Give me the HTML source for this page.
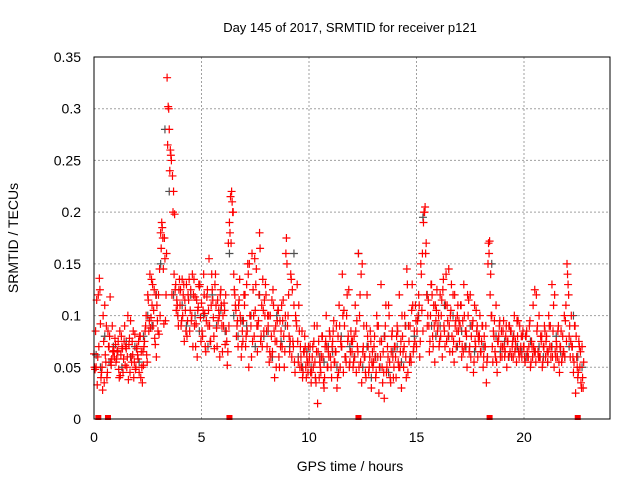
<!DOCTYPE html>
<html><head><meta charset="utf-8"><style>
body{margin:0;background:#fff;}
svg{display:block;font-family:"Liberation Sans",sans-serif;}
</style></head><body>
<svg id="c" width="640" height="480" xmlns="http://www.w3.org/2000/svg">
<text x="350" y="32" font-size="13" text-anchor="middle">Day 145 of 2017, SRMTID for receiver p121</text>
<text x="18" y="238" font-size="14" text-anchor="middle" transform="rotate(-90 18 238)">SRMTID / TECUs</text>
<text x="350" y="471" font-size="14" text-anchor="middle">GPS time / hours</text>
<g id="grid"></g><g id="marks"></g>
<rect x="94" y="57" width="516" height="362" fill="none" stroke="#000" stroke-width="1"/>
</svg>
<script>
const xTicks=[0,5,10,15,20];
const yTicks=[0,0.05,0.1,0.15,0.2,0.25,0.3,0.35];
const yTickLabels=["0","0.05","0.1","0.15","0.2","0.25","0.3","0.35"];
const redAStep=0.05;
const redA=[
.063,.048,.05,.033,.12,.136,.092,.045,.028,.075,.11,.055,.04,.085,.07,.118,.052,.09,.065,.06,
.072,.058,.066,.048,.085,.062,.07,.045,.075,.052,.068,.06,.038,.078,.095,.055,.062,.04,.082,.05,
.07,.058,.045,.08,.065,.035,.052,.075,.09,.062,.12,.085,.14,.098,.11,.09,.125,.072,.06,.095,
.12,.145,.18,.19,.175,.092,.155,.12,.33,.302,.28,.26,.25,.235,.22,.198,.13,.115,.1,.125,
.11,.09,.135,.12,.075,.105,.13,.095,.115,.085,.125,.1,.07,.135,.118,.092,.06,.108,.128,.098,
.112,.08,.14,.102,.065,.118,.09,.155,.075,.11,.125,.098,.068,.14,.088,.115,.105,.06,.125,.09,
.1,.112,.072,.085,.052,.17,.19,.215,.22,.2,.14,.12,.105,.09,.07,.115,.1,.06,.085,.095,
.11,.07,.13,.15,.05,.1,.09,.16,.125,.08,.105,.145,.065,.095,.18,.075,.11,.135,.085,.1,
.12,.07,.09,.055,.1,.08,.065,.11,.04,.09,.075,.105,.06,.095,.085,.07,.115,.05,.1,.175,
.09,.12,.065,.14,.06,.075,.11,.045,.095,.13,.055,.085,.07,.05,.04,.065,.08,.05,.06,.045,
.055,.07,.035,.06,.05,.09,.04,.065,.015,.075,.055,.045,.08,.06,.03,.07,.1,.05,.065,.085,
.06,.04,.075,.095,.055,.065,.03,.08,.11,.05,.07,.14,.045,.09,.06,.1,.075,.125,.055,.085,
.065,.05,.08,.11,.045,.07,.16,.1,.055,.035,.065,.09,.06,.04,.12,.07,.05,.085,.03,.065,
.055,.08,.04,.1,.06,.025,.075,.13,.05,.065,.02,.09,.045,.07,.11,.055,.035,.08,.06,.05,
.07,.04,.09,.055,.12,.065,.03,.08,.05,.1,.06,.145,.045,.075,.09,.055,.13,.065,.085,.11,
.07,.095,.12,.06,.15,.105,.085,.2,.205,.17,.09,.115,.065,.1,.13,.08,.11,.055,.095,.125,
.09,.07,.12,.1,.06,.135,.085,.11,.075,.095,.145,.065,.105,.08,.12,.055,.09,.07,.1,.085,
.075,.11,.06,.095,.13,.07,.085,.05,.1,.065,.12,.08,.09,.045,.11,.07,.085,.06,.075,.1,
.065,.09,.05,.08,.07,.035,.06,.17,.172,.14,.1,.055,.08,.065,.11,.045,.075,.09,.06,.085,
.07,.095,.06,.08,.05,.075,.09,.065,.085,.07,.06,.1,.075,.055,.08,.065,.09,.07,.06,.085,
.07,.055,.08,.065,.06,.09,.05,.075,.06,.07,.125,.055,.085,.065,.1,.06,.075,.05,.07,.09,
.06,.08,.055,.1,.07,.06,.13,.085,.05,.065,.075,.06,.09,.045,.07,.055,.08,.065,.06,.11,
.15,.13,.08,.06,.1,.07,.045,.09,.025,.06,.04,.075,.05,.035,.07,.03];
const redBStep=0.1;
const redB=[
.05,.115,.07,.04,.1,.062,.045,.08,.058,.066,
.055,.075,.042,.068,.09,.05,.072,.06,.085,.048,
.062,.08,.05,.07,.1,.115,.088,.13,.078,.11,
.082,.165,.145,.095,.265,.24,.12,.14,.105,.09,
.125,.1,.115,.08,.135,.095,.12,.07,.105,.13,
.085,.12,.095,.105,.075,.115,.13,.07,.1,.11,
.09,.12,.065,.18,.21,.125,.08,.11,.095,.075,
.12,.085,.15,.06,.1,.13,.09,.165,.07,.115,
.085,.1,.06,.125,.075,.095,.05,.11,.08,.16,
.1,.075,.125,.055,.09,.11,.06,.045,.07,.055,
.06,.045,.075,.035,.065,.05,.08,.04,.07,.06,
.05,.085,.065,.04,.09,.07,.105,.055,.08,.065,
.075,.06,.095,.05,.14,.07,.045,.08,.06,.055,
.07,.045,.09,.06,.035,.08,.05,.1,.065,.04,
.06,.085,.05,.1,.07,.04,.09,.06,.11,.075,
.085,.11,.14,.19,.16,.1,.075,.12,.09,.105,
.1,.08,.125,.07,.11,.09,.13,.075,.095,.11,
.09,.07,.1,.08,.115,.06,.095,.075,.09,.08,
.075,.06,.09,.15,.12,.07,.095,.055,.08,.07,
.085,.065,.075,.09,.06,.08,.07,.095,.065,.08,
.06,.085,.07,.055,.11,.065,.09,.06,.08,.07,
.075,.065,.09,.06,.12,.07,.055,.085,.065,.095,
.14,.09,.07,.055,.08,.045,.065,.04];
const redCStep=0.1;
const redC=[
.085,.06,.125,.05,.035,.09,.07,.055,.065,.078,
.065,.04,.08,.058,.07,.1,.045,.075,.055,.068,
.075,.04,.065,.085,.055,.095,.135,.105,.12,.085,
.1,.185,.175,.16,.3,.255,.2,.125,.11,.135,
.095,.13,.085,.12,.105,.14,.09,.115,.13,.075,
.105,.07,.125,.09,.14,.08,.11,.095,.12,.065,
.105,.075,.09,.17,.2,.11,.095,.135,.07,.12,
.08,.14,.1,.075,.155,.09,.12,.08,.105,.13,
.1,.065,.115,.085,.05,.105,.07,.095,.065,.15,
.08,.135,.07,.1,.075,.05,.085,.065,.04,.07,
.045,.07,.055,.09,.04,.06,.035,.075,.05,.08,
.07,.055,.09,.045,.075,.1,.06,.12,.05,.075,
.055,.085,.065,.12,.15,.06,.09,.045,.075,.05,
.06,.09,.05,.075,.045,.11,.06,.04,.085,.07,
.08,.05,.075,.065,.09,.13,.055,.105,.07,.095,
.1,.075,.16,.2,.12,.09,.13,.07,.11,.085,
.075,.115,.09,.14,.08,.1,.065,.12,.085,.095,
.11,.065,.085,.12,.07,.09,.055,.105,.08,.065,
.09,.07,.055,.16,.1,.085,.06,.075,.095,.06,
.07,.09,.06,.085,.075,.065,.095,.06,.08,.07,
.08,.06,.095,.07,.065,.12,.06,.08,.055,.085,
.065,.09,.07,.11,.06,.085,.07,.06,.1,.075,
.12,.075,.06,.09,.05,.07,.03,.055];
const grayStep=0.2;
const gray=[.062,.05,.08,.055,.07,.065,.05,.075,.06,.07,.055,.08,.1,.09,.12,.15,.28,.22,.12,.1,
.11,.09,.12,.1,.085,.1,.07,.12,.09,.105,.085,.16,.1,.08,.095,.09,.1,.07,.12,.08,
.085,.06,.1,.075,.09,.07,.16,.06,.05,.065,.05,.04,.06,.055,.07,.065,.05,.08,.06,.07,
.06,.16,.05,.07,.04,.06,.05,.08,.045,.065,.07,.055,.09,.06,.08,.1,.195,.12,.09,.08,
.09,.11,.08,.1,.07,.085,.07,.09,.065,.08,.07,.06,.15,.08,.065,.075,.06,.08,.07,.065,
.06,.075,.065,.07,.06,.055,.07,.08,.065,.06,.07,.1,.06,.05];
const gapTimes=[0.2,0.65,6.3,12.3,18.4,22.5];

const X=t=>94+t*(516/24);
const Y=v=>419-v*(362/0.35);
const NS="http://www.w3.org/2000/svg";
const svg=document.getElementById('c'),grid=document.getElementById('grid'),marks=document.getElementById('marks');
function mk(tag,attrs,parent){const e=document.createElementNS(NS,tag);for(const k in attrs)e.setAttribute(k,attrs[k]);parent.appendChild(e);return e;}
xTicks.forEach(t=>{
  if(t>0){const g=mk('line',{x1:X(t),x2:X(t),y1:57,y2:419,stroke:'#a0a0a0','stroke-dasharray':'2,2'},grid);
  
  }
  const l=mk('text',{x:X(t),y:442,'font-size':14,'text-anchor':'middle',fill:'#000'},svg);l.textContent=t;
  
  
});
yTicks.forEach((v,i)=>{
  if(v>0&&v<0.35){const g=mk('line',{x1:94,x2:610,y1:Y(v),y2:Y(v),stroke:'#a0a0a0','stroke-dasharray':'2,2'},grid);
  
  }
  const l=mk('text',{x:81,y:Y(v)+5,'font-size':14,'text-anchor':'end',fill:'#000'},svg);l.textContent=yTickLabels[i];
  
  
});
function plus(t,v,col){
  const x=X(t),y=Y(v);
  return mk('path',{d:`M${x-4} ${y}h8M${x} ${y-4}v8`,stroke:col,'stroke-width':1.2,fill:'none'},marks);
}
gray.forEach((v,i)=>{const p=plus(i*grayStep+0.1,v,'#505050');
  
  });
redA.forEach((v,i)=>{const p=plus(i*redAStep,v,'#ff0000');
  
  });
redB.forEach((v,i)=>{const p=plus(i*redBStep+0.025,v,'#ff0000');
  
  });
redC.forEach((v,i)=>{const p=plus(i*redCStep+0.075,v,'#ff0000');
  
  });
gapTimes.forEach(t=>{const r=mk('rect',{x:X(t)-3,y:415,width:6,height:5,fill:'#ff0000'},marks);
  
  });
</script>
</body></html>
